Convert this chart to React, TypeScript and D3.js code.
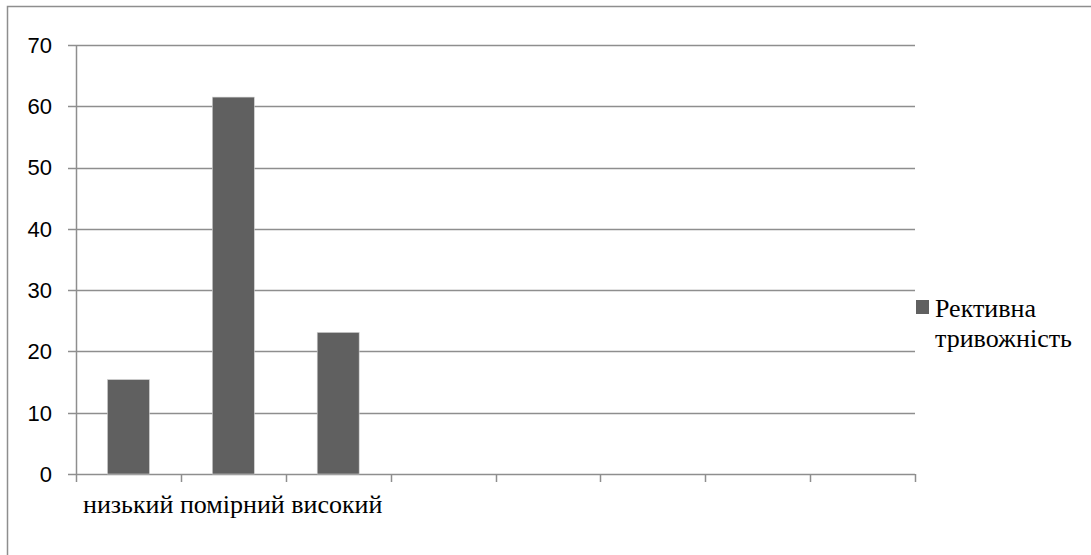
import React, { useEffect, useRef } from "react";
import * as d3 from "d3";

const categories: string[] = ["низький", "помірний", "високий", "", "", "", "", ""];
const values: (number | null)[] = [15.4, 61.5, 23.1, null, null, null, null, null];
const yTicks: number[] = [0, 10, 20, 30, 40, 50, 60, 70];
const seriesName = ["Рективна", "тривожність"];

const W = 1091;
const H = 555;

export default function App() {
  const ref = useRef<SVGSVGElement>(null);

  useEffect(() => {
    const svg = d3.select(ref.current);
    svg.selectAll("*").remove();
    const grid = "#8e8e8e";
    const barColor = "#606060";

    const x = d3
      .scaleBand<number>()
      .domain(categories.map((_, i) => i))
      .range([76, 915])
      .paddingInner(0.6)
      .paddingOuter(0.3);
    const y = d3.scaleLinear().domain([0, 70]).range([474, 45]);
    const step = x.step();
    const tickXs = d3.range(categories.length + 1).map((i) => 76 + i * step);

    svg.append("rect")
      .attr("x", 7.5).attr("y", 6.5).attr("width", W + 20).attr("height", H + 20)
      .attr("fill", "#fff").attr("stroke", grid).attr("stroke-width", 1.5);

    svg.selectAll("line.grid").data(yTicks).enter().append("line")
      .attr("x1", 68).attr("x2", 915)
      .attr("y1", (d) => Math.round(y(d)) + 0.5).attr("y2", (d) => Math.round(y(d)) + 0.5)
      .attr("stroke", grid).attr("stroke-width", 1.5);

    svg.append("line")
      .attr("x1", 76.5).attr("x2", 76.5).attr("y1", y(70)).attr("y2", y(0))
      .attr("stroke", grid).attr("stroke-width", 1.5);

    svg.selectAll("line.xt").data(tickXs).enter().append("line")
      .attr("x1", (d) => Math.round(d) + 0.5).attr("x2", (d) => Math.round(d) + 0.5)
      .attr("y1", y(0)).attr("y2", y(0) + 8)
      .attr("stroke", grid).attr("stroke-width", 1.5);

    svg.selectAll("rect.bar")
      .data(values.map((v, i) => ({ v, i })).filter((d) => d.v != null))
      .enter().append("rect")
      .attr("x", (d) => x(d.i)!)
      .attr("y", (d) => y(d.v as number))
      .attr("width", x.bandwidth())
      .attr("height", (d) => y(0) - y(d.v as number))
      .attr("fill", barColor).attr("stroke", "#d0d0d0").attr("stroke-width", 0.6);

    svg.selectAll("text.yl").data(yTicks).enter().append("text")
      .attr("x", 52).attr("y", (d) => y(d)).attr("dy", "0.36em")
      .attr("text-anchor", "end")
      .style("font-family", "Liberation Sans")
      .style("font-size", "22px")
      .text((d) => String(d));

    svg.append("text")
      .attr("x", 83).attr("y", 513)
      .style("font-family", "Tinos, Liberation Serif, serif")
      .style("font-size", "26px")
      .text(categories.filter((c) => c).join(" "));

    svg.append("rect")
      .attr("x", 916).attr("y", 300).attr("width", 13).attr("height", 14).attr("fill", barColor);

    svg.selectAll("text.lg").data(seriesName).enter().append("text")
      .attr("x", 935).attr("y", (_, i) => 317 + i * 30)
      .style("font-family", "Tinos, Liberation Serif, serif")
      .style("font-size", "26px")
      .text((d) => d);
  }, []);

  return (
    <svg ref={ref} width={W} height={H} style={{ position: "absolute", left: 0, top: 0 }} />
  );
}
